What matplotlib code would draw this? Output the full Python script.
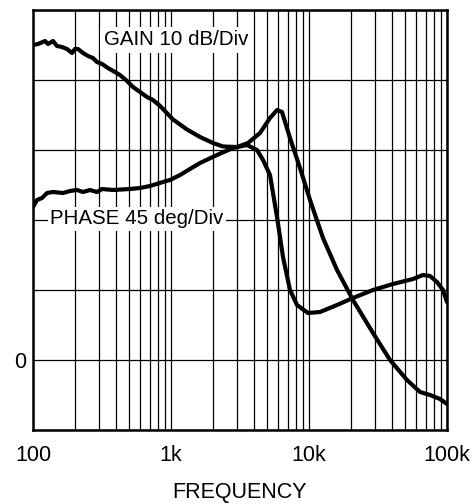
import matplotlib
matplotlib.use("Agg")
import matplotlib.pyplot as plt
from matplotlib.ticker import LogLocator, MultipleLocator, NullFormatter
import numpy as np

plt.rcParams['font.family'] = ['Liberation Sans', 'DejaVu Sans']

# Gain (dB) vs frequency (Hz)
gain_freq = [100, 108.7, 122.2, 128.4, 139.6, 149.2, 162.3, 176.3, 191.7, 201.5,
             211.9, 230.3, 250.3, 272.1, 290.9, 316.2, 349.6, 392.9, 427.0, 479.9,
             530.4, 596.3, 670.2, 740.8, 832.4, 1034, 1306, 1622, 2016, 2382,
             3008, 3614, 4416, 5217, 5864, 6373, 7284, 8605, 10170, 12630,
             15960, 20830, 29090, 38640, 51300, 63730, 75310, 88990, 100000]
gain_db = [45.0, 45.14, 45.57, 45.14, 45.57, 44.86, 44.71, 44.43, 43.86, 44.43,
           44.43, 43.86, 43.43, 43.14, 42.57, 42.29, 41.71, 41.14, 40.71, 39.86,
           39.0, 38.29, 37.57, 37.14, 36.3, 34.36, 32.93, 31.86, 31.0, 30.5,
           30.43, 31.0, 32.43, 34.57, 35.71, 35.43, 31.71, 27.43, 22.86, 17.43,
           12.86, 8.57, 3.86, 0.0, -2.86, -4.57, -5.0, -5.57, -6.29]

# Phase (deg) vs frequency (Hz)
phase_freq = [100, 106.9, 116.2, 126.3, 139.6, 165.0, 185.4, 208.3, 230.3, 258.8,
              290.9, 316.2, 379.9, 504.6, 596.3, 704.4, 875.0, 983.5, 1162, 1622,
              2154, 2814, 3554, 4201, 4642, 5217, 5864, 6480, 7284, 8185,
              9835, 12020, 15960, 20830, 29090, 40620, 56700, 67010, 75310, 84620,
              93540, 100000]
phase_deg = [98.36, 102.86, 104.14, 107.36, 108.0, 107.36, 108.64, 109.29, 108.0, 109.29,
             108.0, 109.93, 109.29, 109.93, 110.57, 111.86, 114.43, 115.71, 118.93, 126.64,
             131.79, 136.29, 138.21, 135.0, 128.57, 118.93, 91.93, 66.21, 45.0, 35.36,
             30.21, 30.86, 35.36, 39.86, 45.0, 48.86, 52.07, 54.64, 54.0, 50.14,
             45.0, 37.29]

x_ticks = [100, 1000, 10000, 100000]
x_tick_labels = ["100", "1k", "10k", "100k"]
gain_label = "GAIN 10 dB/Div"
phase_label = "PHASE 45 deg/Div"
x_label = "FREQUENCY"

DB_PER_DIV = 10.0
DEG_PER_DIV = 45.0

fig = plt.figure(figsize=(4.77, 5.04), dpi=100)
W, H = 477, 504
left, right, top, bottom = 33, 447, 10, 430
ax = fig.add_axes([left / W, 1 - bottom / H, (right - left) / W, (bottom - top) / H])

ax.set_xscale('log')
ax.set_xlim(100, 100000)
ax.set_ylim(-10, 50)

# grid
ax.xaxis.set_minor_locator(LogLocator(base=10, subs=np.arange(2, 10)))
ax.xaxis.set_minor_formatter(NullFormatter())
ax.yaxis.set_minor_locator(MultipleLocator(10))
ax.grid(True, which='both', axis='both', color='black', linewidth=0.9, zorder=0)
ax.set_axisbelow(True)

ax.plot(gain_freq, gain_db, color='black', linewidth=3.0, solid_joinstyle='round',
        solid_capstyle='round', zorder=3)
phase_scaled = [p * DB_PER_DIV / DEG_PER_DIV for p in phase_deg]
ax.plot(phase_freq, phase_scaled, color='black', linewidth=3.0, solid_joinstyle='round',
        solid_capstyle='round', zorder=3)

ax.set_xticks(x_ticks)
ax.set_xticklabels(x_tick_labels)
ax.set_yticks([0])
ax.set_yticklabels(["0"])
ax.tick_params(axis='both', which='both', length=0)
ax.tick_params(axis='x', pad=10.5, labelsize=15.5)
ax.tick_params(axis='y', pad=5, labelsize=15.5)
ax.set_xlabel(x_label, fontsize=15.5, labelpad=12)

for s in ax.spines.values():
    s.set_linewidth(1.8)
    s.set_color('black')
    s.set_zorder(4)

# annotations
def px2data(px, py):
    xf = 10 ** (2 + (px - left) / (right - left) * 3)
    yv = 50 - (py - top) / (bottom - top) * 60
    return xf, yv

gx, gy = px2data(176, 40)
ax.text(gx, gy, gain_label, fontsize=14.8, ha='center', va='center', zorder=5,
        bbox=dict(facecolor='white', edgecolor='none', pad=2.5))
phx, phy = px2data(137, 219)
ax.text(phx, phy, phase_label, fontsize=14.8, ha='center', va='center', zorder=5,
        bbox=dict(facecolor='white', edgecolor='none', pad=1.5))

fig.savefig("out.png", dpi=100)
